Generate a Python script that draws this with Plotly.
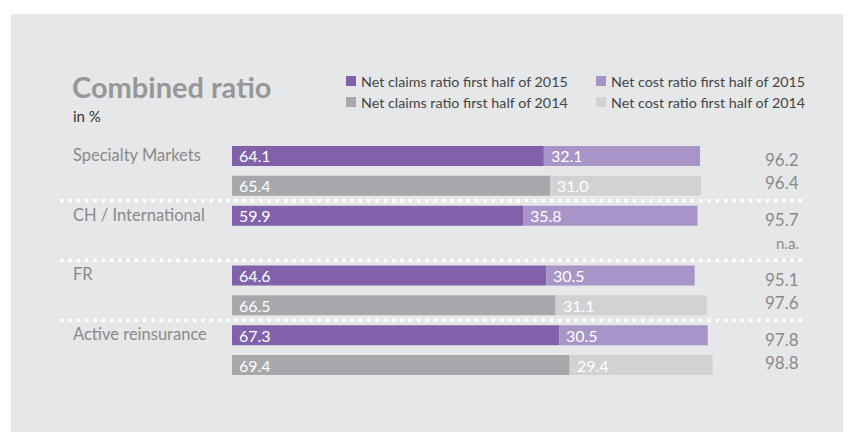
import plotly.graph_objects as go

# ---- data ----
segments = ["Specialty Markets", "CH / International", "FR", "Active reinsurance"]
claims_2015 = [64.1, 59.9, 64.6, 67.3]
cost_2015 = [32.1, 35.8, 30.5, 30.5]
claims_2014 = [65.4, None, 66.5, 69.4]
cost_2014 = [31.0, None, 31.1, 29.4]
total_2015 = ["96.2", "95.7", "95.1", "97.8"]
total_2014 = ["96.4", "n.a.", "97.6", "98.8"]
series_names = ["Net claims ratio first half of 2015", "Net cost ratio first half of 2015",
                "Net claims ratio first half of 2014", "Net cost ratio first half of 2014"]
colors = ["#8261ab", "#a994c7", "#a7a8ab", "#d1d2d4"]

W, H = 851, 432
OFF = 8  # page body margin
ML, MT = 232 - OFF, 141 - OFF
MR = W - (816 - OFF)
MB = H - (380 - OFF)
PW, PH = W - ML - MR, H - MT - MB
FONT = "Lato, 'Open Sans', sans-serif"


def px(x):
    return (x - OFF - ML) / PW


def py(y):
    return (H - MB - (y - OFF)) / PH


y15 = [2 * i for i in range(len(segments))]
y14 = [2 * i + 1 for i in range(len(segments))]

fig = go.Figure()
fig.add_trace(go.Bar(y=y15, x=claims_2015, orientation="h", marker_color=colors[0], name=series_names[0], width=0.67))
fig.add_trace(go.Bar(y=y15, x=cost_2015, base=claims_2015, orientation="h", marker_color=colors[1], name=series_names[1], width=0.67))
fig.add_trace(go.Bar(y=y14, x=claims_2014, orientation="h", marker_color=colors[2], name=series_names[2], width=0.67))
fig.add_trace(go.Bar(y=y14, x=cost_2014, base=[c if c is not None else 0 for c in claims_2014], orientation="h",
                     marker_color=colors[3], name=series_names[3], width=0.67))
for tr in fig.data:
    tr.marker.line.width = 0

ann = []
shapes = []
# background panel
shapes.append(dict(type="rect", xref="paper", yref="paper", x0=px(11), x1=px(W + 20), y0=py(H + 20), y1=py(14),
                   fillcolor="#e6e7e9", line=dict(width=0), layer="below"))

# value labels inside bars
for i in range(len(segments)):
    for yy, cl, co in ((y15[i], claims_2015[i], cost_2015[i]), (y14[i], claims_2014[i], cost_2014[i])):
        if cl is None:
            continue
        ann.append(dict(x=0, y=yy, xref="x", yref="y", text=f"{cl:.1f}", showarrow=False, xanchor="left",
                        xshift=5, font=dict(color="white", size=16, family=FONT)))
        ann.append(dict(x=cl, y=yy, xref="x", yref="y", text=f"{co:.1f}", showarrow=False, xanchor="left",
                        xshift=5, font=dict(color="white", size=16, family=FONT)))
    # totals
    ann.append(dict(x=px(801), y=y15[i], xref="paper", yref="y", text=total_2015[i], showarrow=False, xanchor="right",
                    yshift=-4, font=dict(color="#8a8a8a", size=17, family=FONT)))
    ann.append(dict(x=px(801), y=y14[i], xref="paper", yref="y", text=total_2014[i], showarrow=False, xanchor="right",
                    yshift=3, font=dict(color="#8a8a8a", size=17 if total_2014[i] != "n.a." else 15, family=FONT)))
    # segment labels
    ann.append(dict(x=px(71), y=y15[i], xref="paper", yref="y", text=segments[i], showarrow=False, xanchor="left",
                    yshift=1, font=dict(color="#8a8a8a", size=16.5, family=FONT)))

# dotted separators
for k in range(len(segments) - 1):
    shapes.append(dict(type="line", xref="paper", yref="y", x0=px(60), x1=px(806), y0=y14[k] + 0.5, y1=y14[k] + 0.5,
                       line=dict(color="white", width=3.5, dash="3.5px,4.8px")))

# title
ann.append(dict(x=px(70), y=py(86), xref="paper", yref="paper", text="<b>Combined ratio</b>", showarrow=False,
                xanchor="left", yanchor="middle", font=dict(color="#979797", size=29, family=FONT)))
ann.append(dict(x=px(71), y=py(116), xref="paper", yref="paper", text="in %", showarrow=False,
                xanchor="left", yanchor="middle", font=dict(color="#333333", size=15, family=FONT)))

# legend (manual)
leg_pos = [(346, 81), (596, 81), (346, 102), (596, 102)]
for (lx, ly), name, col in zip(leg_pos, series_names, colors):
    shapes.append(dict(type="rect", xref="paper", yref="paper", x0=px(lx), x1=px(lx + 10), y0=py(ly + 5), y1=py(ly - 5),
                       fillcolor=col, line=dict(width=0)))
    ann.append(dict(x=px(lx + 13), y=py(ly), xref="paper", yref="paper", text=name, showarrow=False,
                    xanchor="left", yanchor="middle", font=dict(color="#454545", size=14.3, family=FONT)))

fig.update_layout(
    width=W, height=H, margin=dict(l=ML, r=MR, t=MT, b=MB),
    barmode="overlay", showlegend=False,
    paper_bgcolor="white", plot_bgcolor="rgba(0,0,0,0)",
    xaxis=dict(range=[0, PW / 4.865], visible=False, fixedrange=True),
    yaxis=dict(range=[7.5, -0.5], visible=False, fixedrange=True),
    annotations=ann, shapes=shapes,
)
fig.write_html("out.html")
